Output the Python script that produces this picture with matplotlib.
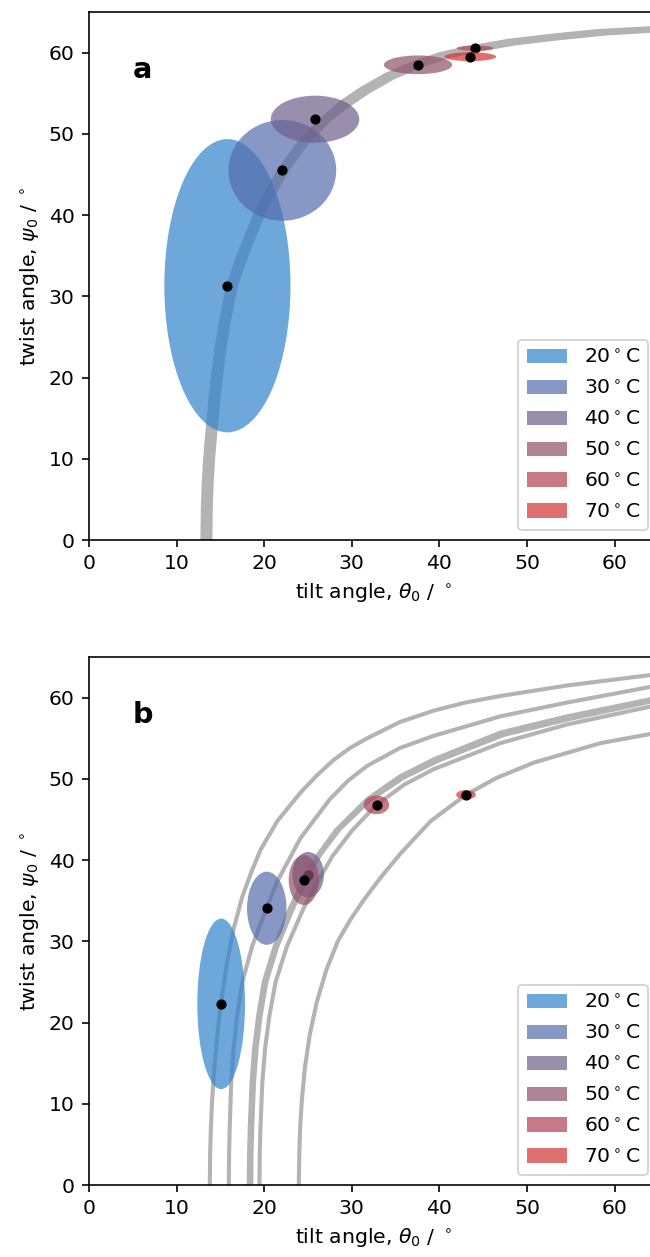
import matplotlib
matplotlib.use("Agg")
import matplotlib.pyplot as plt
from matplotlib.patches import Ellipse

DPI = 147
temps = ["20", "30", "40", "50", "60", "70"]
colors = ["#3183CD", "#546DAB", "#6F5F8B", "#8E5168", "#B04151", "#D03333"]

# ---------------- panel a data ----------------
a_theta = [15.8, 22.07, 25.8, 37.56, 44.06, 43.53]
a_psi = [31.3, 45.5, 51.8, 58.5, 60.55, 59.5]
a_w = [14.4, 12.3, 10.1, 7.8, 4.2, 5.9]
a_h = [36.1, 12.4, 5.8, 2.3, 0.66, 1.1]

a_curve_theta = [
    [12.95, 13.0, 13.1, 13.25, 13.51, 13.85, 14.52, 15.1, 15.85, 17.45, 19.35, 21.75, 24.05, 26.6, 28.75, 30.95, 33.85, 37.11, 40.15, 43.61, 47.85, 52.55, 58.05, 65.0],
    [13.13, 13.18, 13.28, 13.43, 13.69, 14.03, 14.7, 15.28, 16.03, 17.63, 19.53, 21.93, 24.23, 26.78, 28.93, 31.13, 34.03, 37.29, 40.33, 43.79, 48.03, 52.73, 58.23, 65.0],
    [13.31, 13.36, 13.46, 13.61, 13.87, 14.21, 14.88, 15.46, 16.21, 17.81, 19.71, 22.11, 24.41, 26.96, 29.11, 31.31, 34.21, 37.47, 40.51, 43.97, 48.21, 52.91, 58.41, 65.0],
    [13.49, 13.54, 13.64, 13.79, 14.05, 14.39, 15.06, 15.64, 16.39, 17.99, 19.89, 22.29, 24.59, 27.14, 29.29, 31.49, 34.39, 37.65, 40.69, 44.15, 48.39, 53.09, 58.59, 65.0],
    [13.67, 13.72, 13.82, 13.97, 14.23, 14.57, 15.24, 15.82, 16.57, 18.17, 20.07, 22.47, 24.77, 27.32, 29.47, 31.67, 34.57, 37.83, 40.87, 44.33, 48.57, 53.27, 58.77, 65.0],
    [13.85, 13.9, 14.0, 14.15, 14.41, 14.75, 15.42, 16.0, 16.75, 18.35, 20.25, 22.65, 24.95, 27.5, 29.65, 31.85, 34.75, 38.01, 41.05, 44.51, 48.75, 53.45, 58.95, 65.0],
]
a_curve_psi = [
    [0, 4.1, 7.0, 9.9, 13.1, 17.2, 23.4, 27.1, 31.3, 36.1, 41.0, 45.6, 49.0, 51.8, 53.85, 55.45, 57.25, 58.75, 59.85, 60.65, 61.45, 62.05, 62.65, 63.05],
    [0, 4.1, 7.0, 9.9, 13.1, 17.2, 23.4, 27.1, 31.3, 36.1, 41.0, 45.6, 49.0, 51.8, 53.79, 55.39, 57.19, 58.69, 59.79, 60.59, 61.39, 61.99, 62.59, 62.99],
    [0, 4.1, 7.0, 9.9, 13.1, 17.2, 23.4, 27.1, 31.3, 36.1, 41.0, 45.6, 49.0, 51.8, 53.73, 55.33, 57.13, 58.63, 59.73, 60.53, 61.33, 61.93, 62.53, 62.93],
    [0, 4.1, 7.0, 9.9, 13.1, 17.2, 23.4, 27.1, 31.3, 36.1, 41.0, 45.6, 49.0, 51.8, 53.67, 55.27, 57.07, 58.57, 59.67, 60.47, 61.27, 61.87, 62.47, 62.87],
    [0, 4.1, 7.0, 9.9, 13.1, 17.2, 23.4, 27.1, 31.3, 36.1, 41.0, 45.6, 49.0, 51.8, 53.61, 55.21, 57.01, 58.51, 59.61, 60.41, 61.21, 61.81, 62.41, 62.81],
    [0, 4.1, 7.0, 9.9, 13.1, 17.2, 23.4, 27.1, 31.3, 36.1, 41.0, 45.6, 49.0, 51.8, 53.55, 55.15, 56.95, 58.45, 59.55, 60.35, 61.15, 61.75, 62.35, 62.75],
]

# ---------------- panel b data ----------------
b_theta = [15.09, 20.29, 25.02, 24.52, 32.82, 43.03]
b_psi = [22.3, 34.07, 38.2, 37.55, 46.8, 48.05]
b_w = [5.45, 4.5, 3.6, 3.45, 2.9, 2.25]
b_h = [21.0, 9.0, 5.6, 6.15, 2.3, 1.15]

b_curve_theta = [
    [13.79, 13.83, 13.92, 14.06, 14.3, 14.6, 15.05, 15.7, 16.5, 17.5, 18.6, 19.6, 21.5, 24.14, 26.0, 27.9, 29.8, 31.76, 35.5, 39.36, 43.0, 46.97, 54.6, 65.0],
    [15.96, 15.99, 16.06, 16.23, 16.5, 16.9, 17.5, 18.63, 20.26, 21.5, 24.14, 27.5, 29.6, 31.76, 35.5, 39.36, 46.97, 54.6, 65.0],
    [18.24, 18.27, 18.35, 18.55, 18.85, 19.3, 19.95, 21.2, 22.95, 24.5, 26.05, 28.2, 31.76, 35.5, 39.36, 46.97, 54.6, 65.0],
    [18.52, 18.55, 18.63, 18.83, 19.13, 19.58, 20.25, 21.5, 23.3, 25.02, 26.5, 28.6, 32.2, 36.0, 39.8, 47.3, 55.0, 65.0],
    [19.46, 19.49, 19.57, 19.78, 20.1, 20.58, 21.3, 22.6, 24.5, 26.2, 27.8, 30.0, 32.82, 36.0, 39.36, 46.97, 54.6, 65.0],
    [23.95, 24.0, 24.1, 24.3, 24.65, 25.2, 26.0, 27.1, 28.4, 29.8, 31.37, 33.4, 35.56, 39.0, 42.98, 46.5, 50.78, 58.4, 65.0],
]
b_curve_psi = [
    [0, 4.0, 7.2, 10.5, 14.3, 18.0, 22.3, 27.0, 31.5, 35.5, 38.7, 41.3, 44.8, 48.3, 50.4, 52.3, 53.8, 55.0, 57.0, 58.4, 59.4, 60.2, 61.5, 62.9],
    [0, 3.5, 7.0, 12.5, 16.8, 20.75, 25.0, 29.4, 34.07, 37.4, 42.7, 47.5, 49.8, 51.6, 53.8, 55.3, 57.7, 59.4, 61.5],
    [0, 3.5, 7.0, 12.5, 16.8, 20.75, 25.0, 29.4, 34.07, 37.5, 40.5, 43.7, 47.5, 50.3, 52.4, 55.7, 57.7, 60.0],
    [0, 3.5, 7.0, 12.5, 16.8, 20.75, 25.0, 29.4, 34.07, 38.2, 40.8, 43.8, 47.5, 50.2, 52.2, 55.4, 57.4, 59.7],
    [0, 3.5, 7.0, 12.5, 16.8, 20.75, 25.0, 29.4, 34.07, 37.5, 40.5, 43.6, 46.8, 49.3, 51.2, 54.4, 56.7, 59.1],
    [0, 3.5, 7.0, 10.5, 14.5, 18.5, 22.5, 26.5, 30.0, 32.6, 35.1, 38.0, 40.8, 44.8, 48.0, 50.1, 52.0, 54.4, 55.7],
]

W, H = 650, 1257
fig = plt.figure(figsize=(W / DPI, H / DPI), dpi=DPI)

def make_axes(top_px, bottom_px):
    left_px = 89
    width_px = 65 * 8.76
    return fig.add_axes([left_px / W, 1 - bottom_px / H, width_px / W, (bottom_px - top_px) / H])

def draw(ax, cth, cps, lw, th, ps, ww, hh, label):
    for xs, ys in zip(cth, cps):
        ax.plot(xs, ys, color="#b3b3b3", lw=lw, solid_capstyle="butt",
                solid_joinstyle="round", zorder=1)
    for i in range(len(temps)):
        e = Ellipse((th[i], ps[i]), ww[i], hh[i], facecolor=colors[i], alpha=0.7,
                    edgecolor="none", label=temps[i] + r"$^\circ$C", zorder=2 + 2 * i)
        ax.add_patch(e)
        ax.plot([th[i]], [ps[i]], "o", color="black", ms=4, zorder=3 + 2 * i)
    ax.set_xlim(0, 65)
    ax.set_ylim(0, 65)
    ax.set_xticks([0, 10, 20, 30, 40, 50, 60])
    ax.set_yticks([0, 10, 20, 30, 40, 50, 60])
    ax.set_xlabel(r"tilt angle, $\theta_0$ / $^\circ$")
    ax.set_ylabel(r"twist angle, $\psi_0$ / $^\circ$")
    ax.text(0.0945, 0.891, label, transform=ax.transAxes, fontsize=14,
            fontweight="bold", ha="center", va="center")
    ax.legend(loc="lower right", labelspacing=0.58)

ax1 = make_axes(12, 540)
draw(ax1, a_curve_theta, a_curve_psi, 2.0, a_theta, a_psi, a_w, a_h, "a")
ax2 = make_axes(657, 1185)
draw(ax2, b_curve_theta, b_curve_psi, 2.0, b_theta, b_psi, b_w, b_h, "b")

fig.savefig("out.png", dpi=DPI)
